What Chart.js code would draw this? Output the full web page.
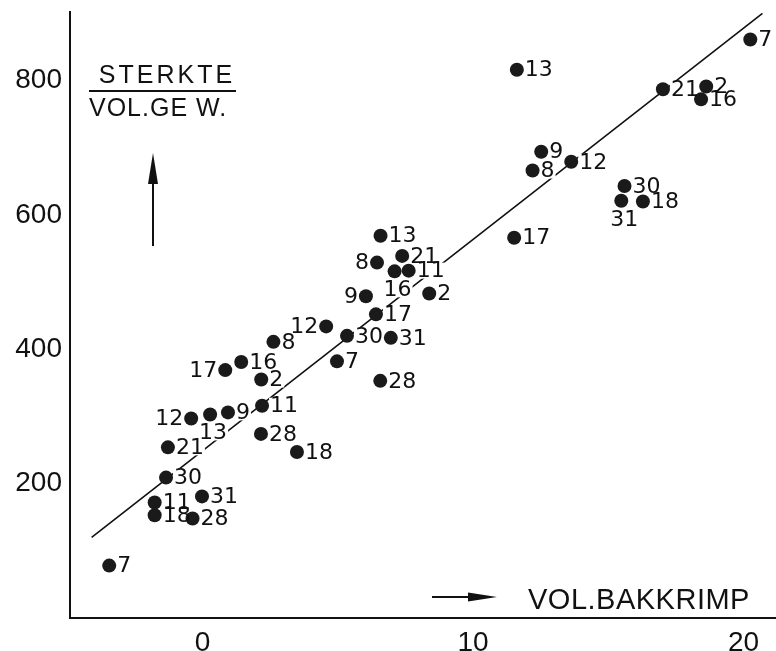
<!DOCTYPE html>
<html>
<head>
<meta charset="utf-8">
<script src="https://cdn.jsdelivr.net/npm/chart.js@4.4.0/dist/chart.umd.min.js"></script>
<style>
  html, body { margin: 0; background: #fff; overflow: hidden; }
  /* a bit wider than the window: chart.js keeps ~7px right of the plot for the dots */
  #wrap { width: 783px; height: 651px; }
</style>
</head>
<body>
<div id="wrap"><canvas id="myChart"></canvas></div>
<script>
// sample number written next to each point
const pointIds = ['7', '18', '11', '28', '31', '30', '21', '12', '13', '9', '11', '28', '2', '17',
  '16', '8', '18', '12', '30', '7', '31', '28', '17', '9', '2', '8', '13', '21', '16', '11',
  '13', '17', '9', '8', '12', '30', '31', '18', '21', '2', '16', '7'];
// vol. bakkrimp (x)
const volBakkrimp = [-3.45, -1.77, -1.77, -0.37, -0.02, -1.35, -1.28, -0.42, 0.28, 0.94, 2.2, 2.16, 2.17, 0.84,
  1.43, 2.62, 3.49, 4.57, 5.34, 4.97, 6.96, 6.57, 6.41, 6.04, 8.38, 6.45, 6.58, 7.38, 7.1, 7.62,
  11.62, 11.52, 12.52, 12.2, 13.63, 15.6, 15.48, 16.28, 17.02, 18.62, 18.43, 20.25];
// sterkte / vol.gew. (y)
const sterkte = [78, 153, 172, 148, 181, 209, 254, 297, 303, 306, 316, 274, 355, 369,
  381, 411, 247, 434, 420, 382, 417, 353, 452, 479, 483, 529, 569, 539, 516, 517,
  816, 566, 694, 666, 679, 643, 621, 620, 787, 791, 772, 861];
// where the number goes: r = right, l = left, b = below
const labelSide = ['r', 'r', 'r', 'r', 'r', 'r', 'r', 'l', 'b', 'r', 'r', 'r', 'r', 'l',
  'r', 'r', 'r', 'l', 'r', 'r', 'r', 'r', 'r', 'l', 'r', 'l', 'r', 'r', 'b', 'r',
  'r', 'r', 'r', 'r', 'r', 'r', 'b', 'r', 'r', 'r', 'r', 'r'];

// fitted line end points
const fitX = [-4.1, 20.7];
const fitY = [120, 900];

const xTicks = [0, 10, 20];
const yTicks = [200, 400, 600, 800];

const labelFont = '22px "DejaVu Sans"';

Chart.defaults.font.family = '"Liberation Sans", Arial, sans-serif';
Chart.defaults.color = '#111';

function labelBox(ctx, el, i) {
  const txt = pointIds[i];
  const w = ctx.measureText(txt).width;
  let x = el.x + 8, y = el.y;
  if (labelSide[i] === 'l') {
    x = el.x - 8 - w;
  } else if (labelSide[i] === 'b') {
    x = el.x + 3 - w / 2;
    y = el.y + 18;
  }
  return { x: x, y: y, w: w };
}

const pointLabels = {
  id: 'pointLabels',
  afterDatasetDraw(chart, args) {
    // white patches under the numbers so the line breaks there
    if (args.index !== 1) return;
    const ctx = chart.ctx;
    const meta = chart.getDatasetMeta(0);
    ctx.save();
    ctx.font = labelFont;
    ctx.fillStyle = '#fff';
    meta.data.forEach((el, i) => {
      const b = labelBox(ctx, el, i);
      ctx.fillRect(b.x - 1, b.y - 8, b.w + 2, 16);
    });
    ctx.restore();
  },
  afterDatasetsDraw(chart) {
    const ctx = chart.ctx;
    const meta = chart.getDatasetMeta(0);
    ctx.save();
    ctx.font = labelFont;
    ctx.fillStyle = '#111';
    ctx.textAlign = 'left';
    ctx.textBaseline = 'middle';
    meta.data.forEach((el, i) => {
      const b = labelBox(ctx, el, i);
      ctx.fillText(pointIds[i], b.x, b.y + 1);
    });
    ctx.restore();
  }
};

const axisNotes = {
  id: 'axisNotes',
  afterDraw(chart) {
    const ctx = chart.ctx;
    ctx.save();
    ctx.fillStyle = '#111';
    ctx.strokeStyle = '#111';
    ctx.textBaseline = 'middle';

    // y title as a fraction
    ctx.font = '25px "Liberation Sans"';
    ctx.letterSpacing = '3px';
    ctx.textAlign = 'center';
    ctx.fillText('STERKTE', 167, 76);
    ctx.letterSpacing = '1px';
    ctx.textAlign = 'left';
    ctx.fillText('VOL.GE W.', 89, 109);
    ctx.lineWidth = 2;
    ctx.beginPath();
    ctx.moveTo(89, 91);
    ctx.lineTo(236, 91);
    ctx.stroke();

    // up arrow
    ctx.lineWidth = 2;
    ctx.beginPath();
    ctx.moveTo(153, 246);
    ctx.lineTo(153, 178);
    ctx.stroke();
    ctx.beginPath();
    ctx.moveTo(153, 153);
    ctx.lineTo(148, 184);
    ctx.lineTo(158, 184);
    ctx.closePath();
    ctx.fill();

    // right arrow
    ctx.beginPath();
    ctx.moveTo(432, 597);
    ctx.lineTo(472, 597);
    ctx.stroke();
    ctx.beginPath();
    ctx.moveTo(497, 597);
    ctx.lineTo(468, 592.5);
    ctx.lineTo(468, 601.5);
    ctx.closePath();
    ctx.fill();

    ctx.font = '29px "Liberation Sans"';
    ctx.letterSpacing = '0.5px';
    ctx.fillText('VOL.BAKKRIMP', 528, 601);
    ctx.restore();
  }
};

new Chart(document.getElementById('myChart'), {
  type: 'scatter',
  data: {
    datasets: [{
      data: volBakkrimp.map((x, i) => ({ x: x, y: sterkte[i] })),
      backgroundColor: '#1a1a1a',
      borderWidth: 0,
      pointRadius: 7,
      pointHoverRadius: 7,
      order: 1,
      clip: false
    }, {
      type: 'line',
      data: fitX.map((x, i) => ({ x: x, y: fitY[i] })),
      borderColor: '#111',
      borderWidth: 1.6,
      pointRadius: 0,
      fill: false,
      order: 2,
      clip: false
    }]
  },
  options: {
    responsive: true,
    maintainAspectRatio: false,
    animation: false,
    layout: { padding: { top: 12, right: 0, left: 0, bottom: 0 } },
    plugins: {
      legend: { display: false },
      tooltip: { enabled: false }
    },
    scales: {
      x: {
        type: 'linear',
        min: -4.9,
        max: 21.2,
        grid: { display: false, drawTicks: false },
        border: { display: true, color: '#111', width: 2 },
        ticks: { font: { size: 28 }, padding: 8, maxRotation: 0 },
        afterBuildTicks: scale => { scale.ticks = xTicks.map(v => ({ value: v })); },
        afterFit: scale => {
          scale.height = 33;
          scale.paddingLeft = 0;
          scale.paddingRight = 0;
        }
      },
      y: {
        type: 'linear',
        min: 0,
        max: 902,
        grid: { display: false, drawTicks: false },
        border: { display: true, color: '#111', width: 2 },
        ticks: { font: { size: 28 }, padding: 8 },
        afterBuildTicks: scale => { scale.ticks = yTicks.map(v => ({ value: v })); },
        afterFit: scale => {
          scale.width = 70;
          scale.paddingTop = 0;
          scale.paddingBottom = 0;
        }
      }
    }
  },
  plugins: [pointLabels, axisNotes]
});
</script>
</body>
</html>
